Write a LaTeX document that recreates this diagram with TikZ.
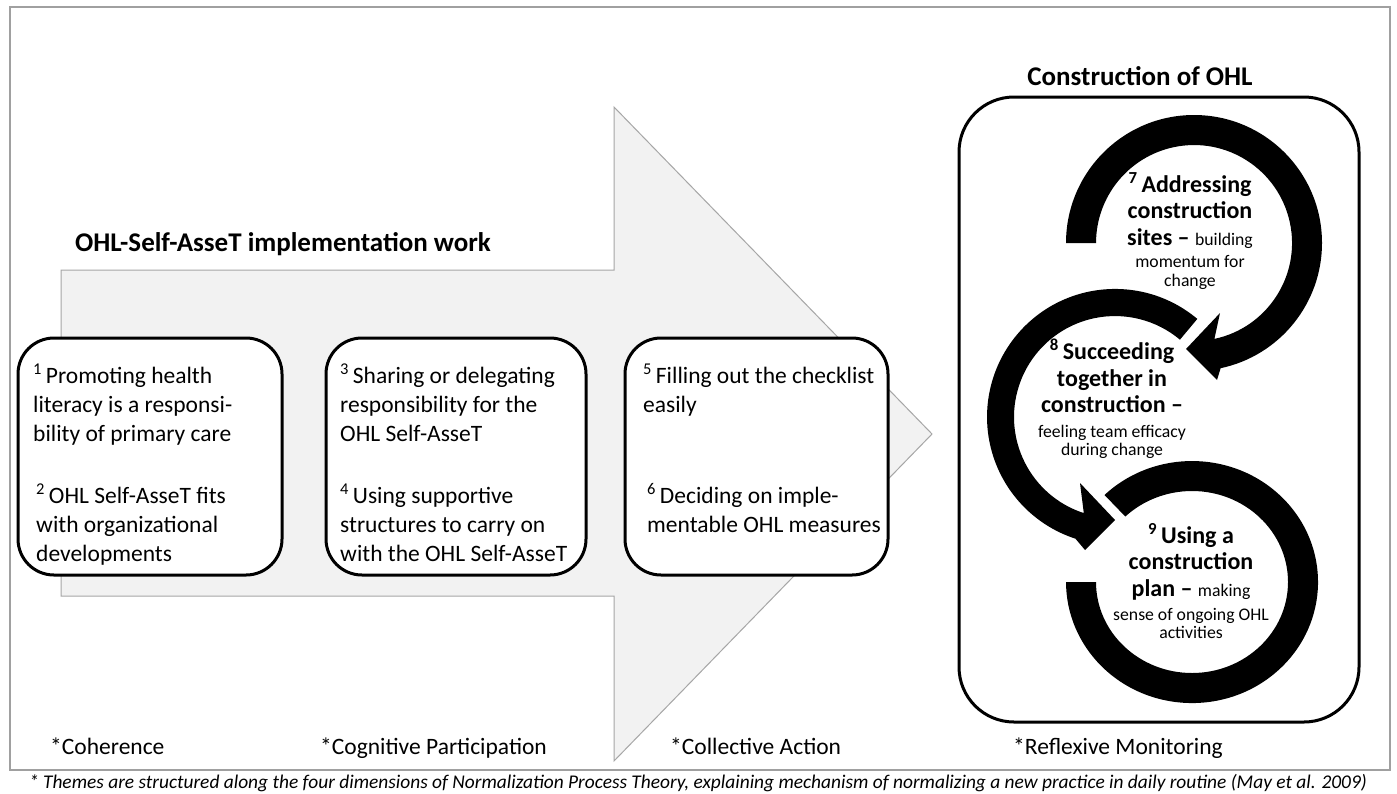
\documentclass[tikz,border=0pt]{standalone}
\usepackage{fontspec}
\setmainfont{Carlito}
\begin{document}
\begin{tikzpicture}[x=1pt,y=-1pt,
  panel/.style={draw=black,line width=3pt,fill=white,rounded corners=36pt,inner sep=0pt},
  boxtext/.style={anchor=north west,inner sep=0pt,align=left,font=\fontsize{23.5}{29}\selectfont},
  ringtext/.style={inner sep=0pt,align=center,font=\fontsize{24}{26.5}\selectfont\bfseries},
  heading/.style={inner sep=0pt,font=\fontsize{27}{32}\selectfont\bfseries},
  dimlabel/.style={anchor=base west,inner sep=0pt,font=\fontsize{23.5}{29}\selectfont},
  ring/.style={fill=black}]
\definecolor{arrowfill}{HTML}{F2F2F2}
\definecolor{arrowedge}{HTML}{A6A6A6}
\definecolor{framegray}{HTML}{A0A0A0}
\newcommand\sm[1]{{\fontsize{17.7}{21}\selectfont\mdseries #1}}

\useasboundingbox (0,0) rectangle (1397,793);
\fill[white] (0,0) rectangle (1397,793);

% outer frame
\draw[framegray,line width=1.5pt] (10,7) rectangle (1390,770);

% large process arrow
\draw[fill=arrowfill,draw=arrowedge,line width=1pt]
  (61,270) -- (614,270) -- (614,107) -- (932,434) -- (614,761) -- (614,596) -- (61,596) -- cycle;

\node[heading,anchor=base west] (worktitle) at (75,251) {OHL-Self-AsseT implementation work};

% theme boxes
\node[panel,minimum width=264pt,minimum height=237pt] (box1) at (150,456.5) {};
\node[panel,minimum width=260pt,minimum height=237pt] (box2) at (456,456.5) {};
\node[panel,minimum width=263pt,minimum height=237pt] (box3) at (756.5,456.5) {};

\node[boxtext] (t1) at (33,364) {\textsuperscript{1}\,Promoting health\\literacy is a responsi-\\bility of primary care\\[33pt]\hspace{3pt}\textsuperscript{2}\,OHL Self-AsseT fits\\\hspace{3pt}with organizational\\\hspace{3pt}developments};
\node[boxtext] (t2) at (340,364) {\textsuperscript{3}\,Sharing or delegating\\responsibility for the\\OHL Self-AsseT\\[33pt]\textsuperscript{4}\,Using supportive\\structures to carry on\\with the OHL Self-AsseT};
\node[boxtext] (t3) at (643,364) {\textsuperscript{5}\,Filling out the checklist\\easily\\[62pt]\hspace{4pt}\textsuperscript{6}\,Deciding on imple-\\\hspace{4pt}mentable OHL measures};

% construction panel
\node[heading,anchor=base] (ohltitle) at (1140,85) {Construction of OHL};
\node[panel,rounded corners=55pt,minimum width=400pt,minimum height=625pt] (ohlpanel) at (1159,409.5) {};

% circular arrows
\fill[ring] (1066,243) arc[start angle=180,end angle=438,radius=128]
  -- (1217,380) -- (1186,349) -- (1220,313) -- (1214.4,338.9)
  arc[start angle=438,end angle=180,radius=98] -- cycle;
\fill[ring] (1197.3,318.9) arc[start angle=310,end angle=108,radius=128]
  -- (1085,550) -- (1115,520) -- (1080,483) -- (1083.8,513.1)
  arc[start angle=108,end angle=310,radius=101] -- cycle;
\fill[ring] (1104.5,495) arc[start angle=226,end angle=540,x radius=126,y radius=121]
  -- (1096,582) arc[start angle=540,end angle=226,x radius=96,y radius=91] -- cycle;

\node[ringtext] (r7) at (1190,231) {\textsuperscript{7}\,Addressing\\construction\\sites -- \sm{building}\\[-4.5pt]\sm{momentum for}\\[-7pt]\sm{change}};
\node[ringtext] (r8) at (1112,399) {\textsuperscript{8}\,Succeeding\\together in\\construction --\\[-2pt]\sm{feeling team efficacy}\\[-8pt]\sm{during change}};
\node[ringtext] (r9) at (1191,581) {\textsuperscript{9}\,Using a\\construction\\plan -- \sm{making}\\[-2.5pt]\sm{sense of ongoing OHL}\\[-8.5pt]\sm{activities}};

% dimension labels
\node[dimlabel] (d1) at (50,754) {*Coherence};
\node[dimlabel] (d2) at (320,754) {*Cognitive Participation};
\node[dimlabel] (d3) at (670,754) {*Collective Action};
\node[dimlabel] (d4) at (1013,754) {*Reflexive Monitoring};

\node[anchor=base,inner sep=0pt,font=\fontsize{19.4}{23}\selectfont\itshape] (caption) at (698,788.5)
  {* Themes are structured along the four dimensions of Normalization Process Theory, explaining mechanism of normalizing a new practice in daily routine (May et al. 2009)};
\end{tikzpicture}
\end{document}
